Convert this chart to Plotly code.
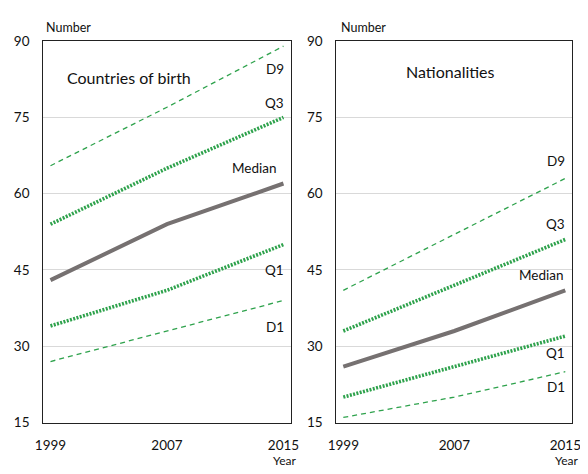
import plotly.graph_objects as go

years = [1999, 2007, 2015]

# Countries of birth
cob_d9 = [65.5, 77, 89]
cob_q3 = [54, 65, 75]
cob_med = [43, 54, 62]
cob_q1 = [34, 41, 50]
cob_d1 = [27, 33, 39]

# Nationalities
nat_d9 = [41, 52, 63]
nat_q3 = [33, 42, 51]
nat_med = [26, 33, 41]
nat_q1 = [20, 26, 32]
nat_d1 = [16, 20, 25]

series_names = ["D9", "Q3", "Median", "Q1", "D1"]
y_ticks = [15, 30, 45, 60, 75, 90]
x_ticks = [1999, 2007, 2015]

GREEN = "#2ea24c"
GREY = "#767171"
FONT = "Lato, 'Open Sans', sans-serif"

# page has an 8px body margin; figure occupies page pixels 8..588 x 8..474
W, H, OFF = 580, 466, 8


def px(X):
    return (X - OFF) / W


def py(Y):
    return 1 - (Y - OFF) / H


styles = {
    "D9": dict(color=GREEN, width=1.3, dash="5px,4px"),
    "Q3": dict(color=GREEN, width=3.6, dash="2px,1.4px"),
    "Median": dict(color=GREY, width=4),
    "Q1": dict(color=GREEN, width=3.6, dash="2px,1.4px"),
    "D1": dict(color=GREEN, width=1.3, dash="5px,4px"),
}

fig = go.Figure()

panels = [
    ("x", "y", [cob_d9, cob_q3, cob_med, cob_q1, cob_d1]),
    ("x2", "y2", [nat_d9, nat_q3, nat_med, nat_q1, nat_d1]),
]
for xa, ya, data in panels:
    for name, vals in zip(series_names, data):
        fig.add_trace(go.Scatter(x=years, y=vals, mode="lines", name=name,
                                 line=dict(**styles[name]), xaxis=xa, yaxis=ya,
                                 showlegend=False, hoverinfo="skip"))

ydom = [py(429), py(34)]
axis_common = dict(showline=True, mirror=True, linecolor="#222", linewidth=1,
                   ticks="", tickfont=dict(family=FONT, size=13.5, color="#111"))
xcommon = dict(axis_common, range=[1998.5, 2015.5], tickvals=x_ticks,
               showgrid=False, zeroline=False, ticklabelstandoff=10)
ycommon = dict(axis_common, range=[15, 90], tickvals=y_ticks, showgrid=True,
               gridcolor="#d9d9d9", gridwidth=1, zeroline=False,
               ticklabelstandoff=10)

fig.update_layout(
    width=W, height=H,
    margin=dict(l=0, r=0, t=0, b=0),
    paper_bgcolor="white", plot_bgcolor="white",
    font=dict(family=FONT, color="#111"),
    xaxis=dict(xcommon, domain=[px(35), px(290)], anchor="y"),
    yaxis=dict(ycommon, domain=ydom, anchor="x"),
    xaxis2=dict(xcommon, domain=[px(337), px(580)], anchor="y2"),
    yaxis2=dict(ycommon, domain=ydom, anchor="x2"),
)

anns = []
# Axis captions
for xl in (36, 340):
    anns.append(dict(text="Number", xref="paper", yref="paper", x=px(xl), y=py(20),
                     xanchor="left", yanchor="middle", showarrow=False,
                     font=dict(size=12.5)))
for xr in (297, 588):
    anns.append(dict(text="Year", xref="paper", yref="paper", x=px(xr), y=py(468),
                     xanchor="right", yanchor="middle", showarrow=False,
                     font=dict(size=12)))
# Panel titles
anns.append(dict(text="Countries of birth", xref="x", yref="y", x=2004.4, y=82.8,
                 showarrow=False, font=dict(size=16)))
anns.append(dict(text="Nationalities", xref="x2", yref="y2", x=2006.7, y=84,
                 showarrow=False, font=dict(size=16)))

# Series labels
left_labels = [("D9", 2014.4, 84.5), ("Q3", 2014.4, 77.8), ("Median", 2013.0, 65.0),
               ("Q1", 2014.4, 45.0), ("D1", 2014.4, 33.8)]
right_labels = [("D9", 2014.3, 66.5), ("Q3", 2014.3, 54.0), ("Median", 2013.3, 44.0),
                ("Q1", 2014.3, 28.6), ("D1", 2014.3, 22.0)]
for t, x, y in left_labels:
    anns.append(dict(text=t, xref="x", yref="y", x=x, y=y, showarrow=False,
                     font=dict(size=13.5)))
for t, x, y in right_labels:
    anns.append(dict(text=t, xref="x2", yref="y2", x=x, y=y, showarrow=False,
                     font=dict(size=13.5)))

fig.update_layout(annotations=anns)
fig.write_html("out.html")
